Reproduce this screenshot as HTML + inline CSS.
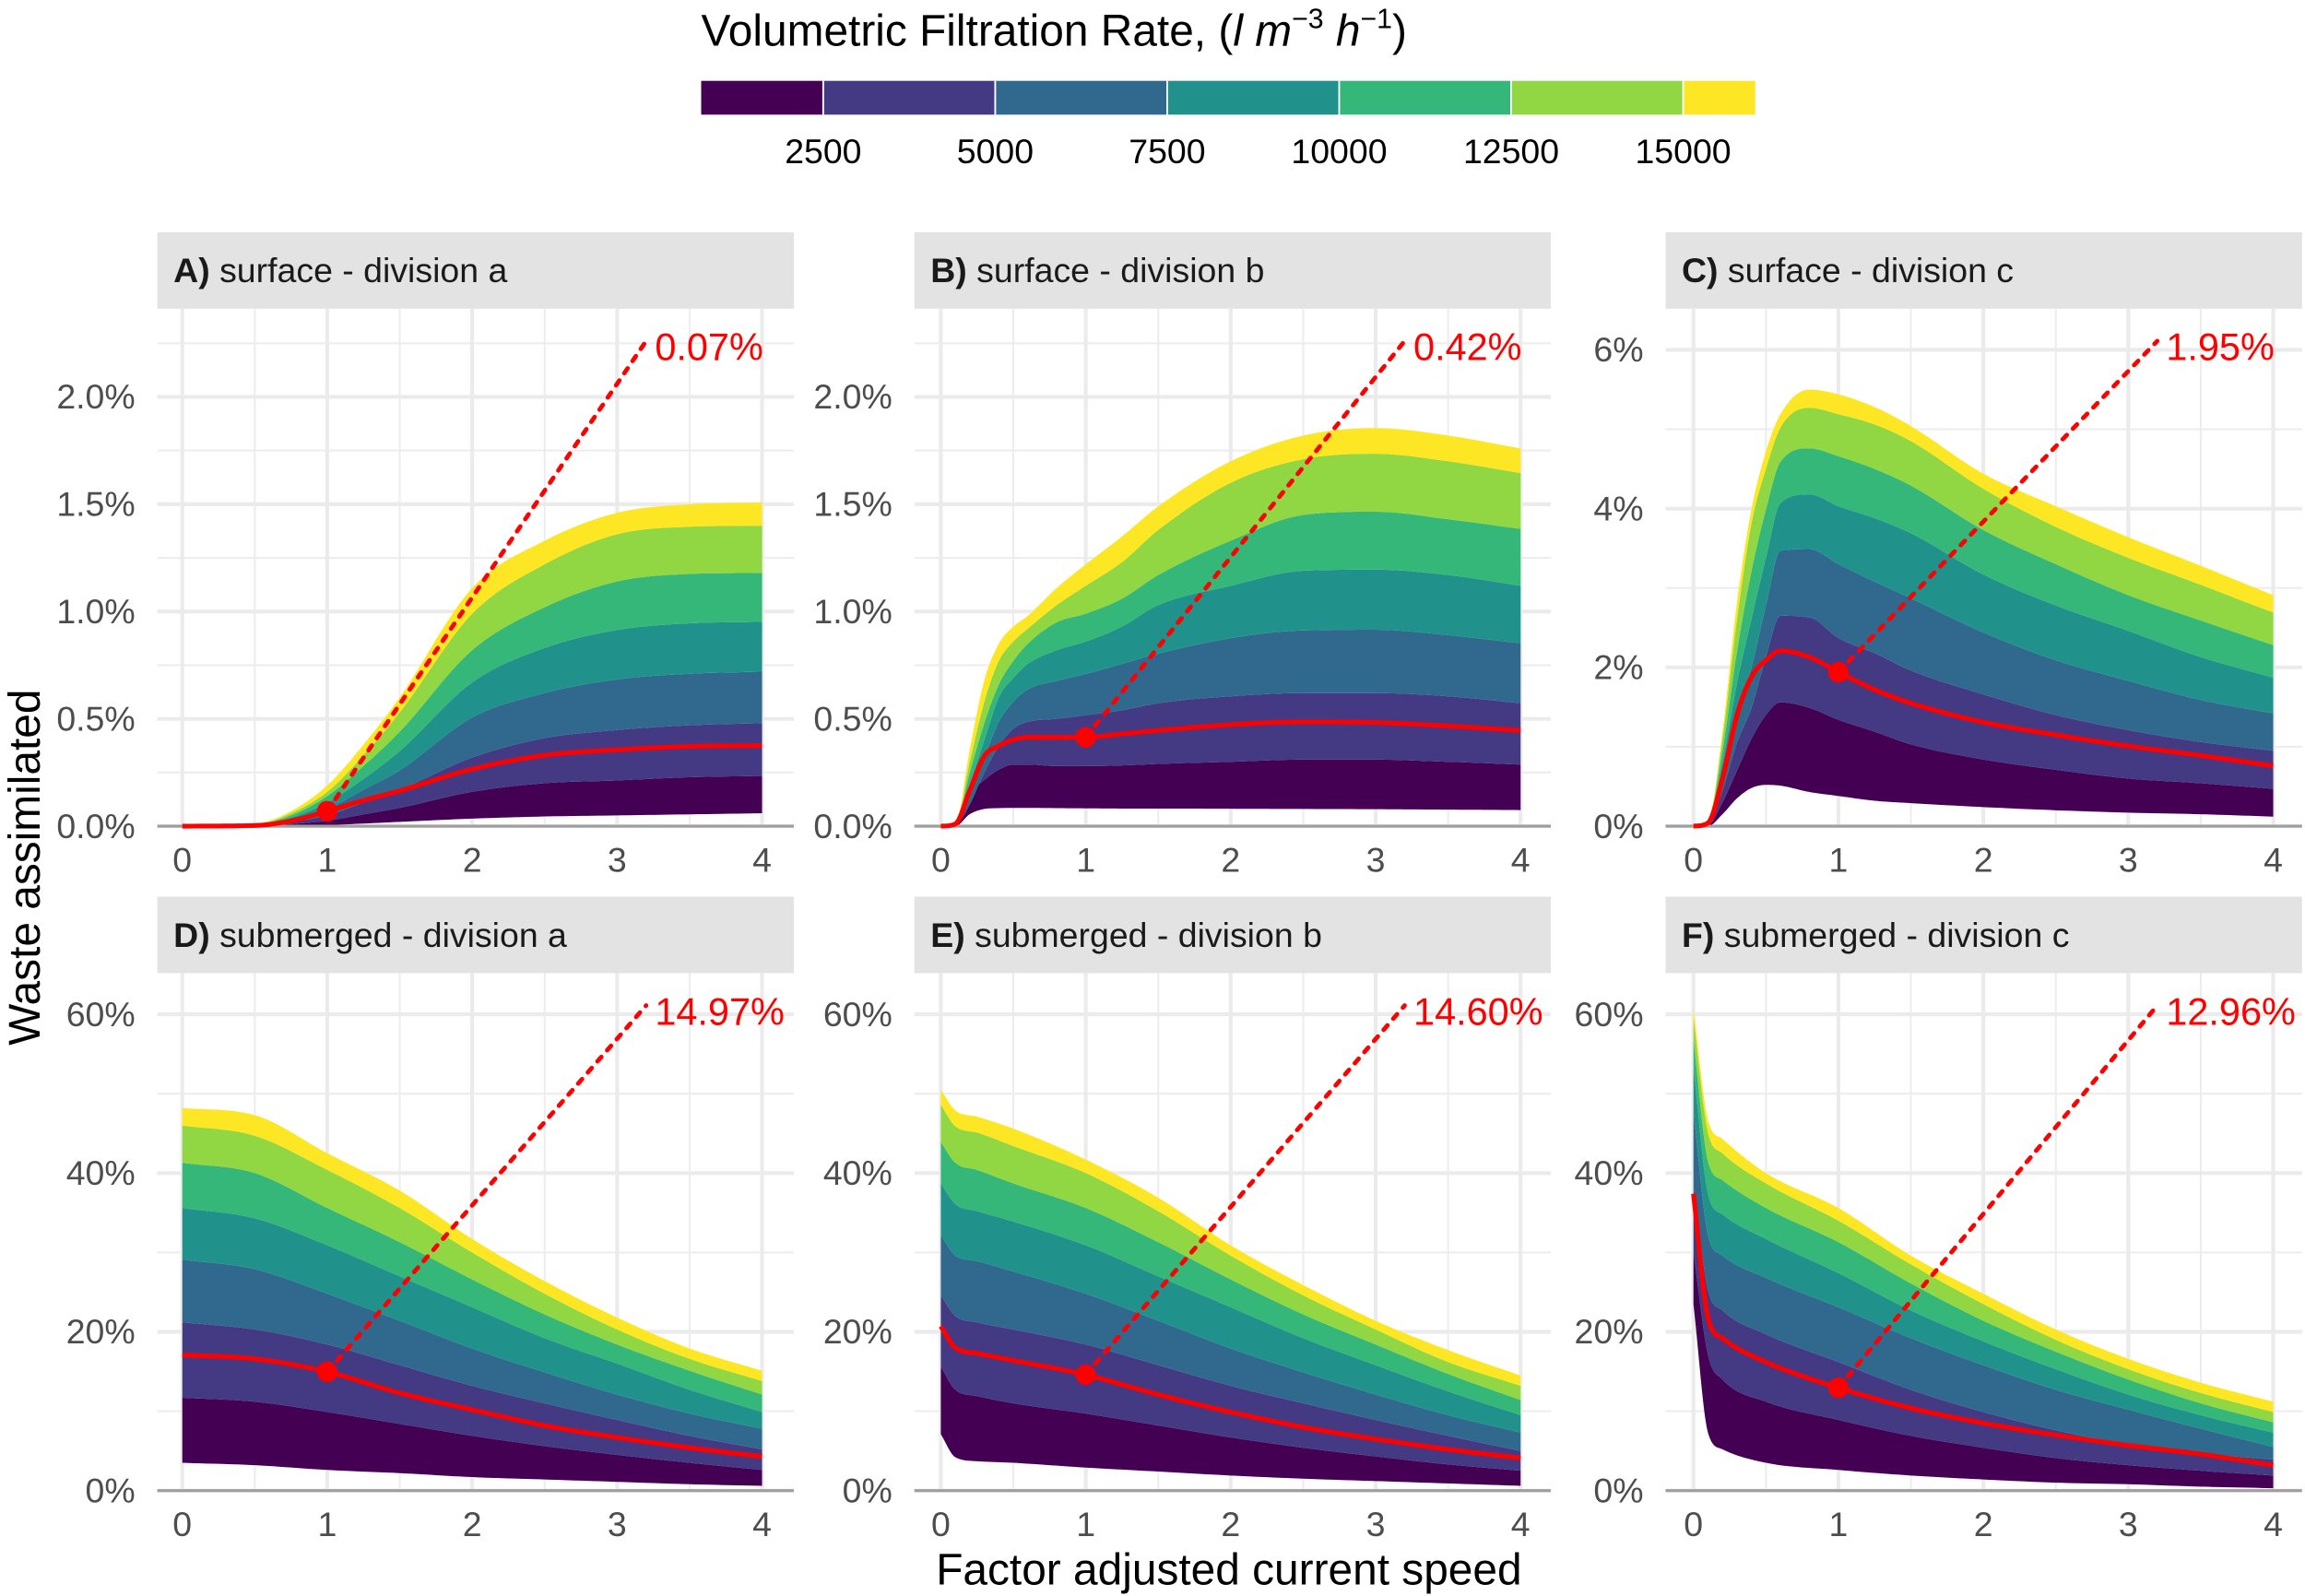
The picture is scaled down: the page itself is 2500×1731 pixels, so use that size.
<!DOCTYPE html>
<html><head><meta charset="utf-8">
<style>
html,body{margin:0;padding:0;background:#fff;}
svg{display:block;font-family:"Liberation Sans",Arial,sans-serif;}
</style></head>
<body>
<svg id="chart" width="2500" height="1731" viewBox="0 0 1568 1085.7" xmlns="http://www.w3.org/2000/svg"></svg>
<script>
// ---------- Data ----------
const bandColors = ["#440154","#443983","#31688e","#21918c","#35b779","#90d743","#fde725"];
const legendBreaks = [726,2500,5000,7500,10000,12500,15000,16047];
const legendTicks = [2500,5000,7500,10000,12500,15000];

const A_x = [0,0.5,0.75,1,1.25,1.5,2,2.5,3,3.5,4];
const A_lo = [0,0,0,0.005,0.012,0.02,0.035,0.045,0.05,0.055,0.06];
const A_b1 = [0,0.001,0.01,0.025,0.055,0.085,0.16,0.2,0.213,0.228,0.234];
const A_b2 = [0,0.002,0.02,0.05,0.11,0.17,0.32,0.41,0.448,0.47,0.48];
const A_b3 = [0,0.004,0.03,0.08,0.17,0.26,0.506,0.62,0.684,0.71,0.72];
const A_b4 = [0,0.005,0.04,0.11,0.22,0.35,0.67,0.83,0.914,0.945,0.952];
const A_b5 = [0,0.007,0.05,0.14,0.28,0.44,0.82,1.02,1.14,1.175,1.18];
const A_b6 = [0,0.008,0.06,0.16,0.33,0.53,0.99,1.22,1.36,1.395,1.40];
const A_b7 = [0,0.01,0.07,0.19,0.38,0.6,1.11,1.33,1.46,1.5,1.508];
const A_red = [0,0.003,0.025,0.07,0.12,0.165,0.266,0.33,0.356,0.372,0.376];

const B_x = [0,0.1,0.2,0.3,0.4,0.5,0.6,0.8,1,1.25,1.5,2,2.5,3,3.5,4];
const B_lo = [0,0,0.056,0.08,0.084,0.085,0.085,0.084,0.083,0.082,0.082,0.081,0.08,0.079,0.077,0.075];
const B_b1 = [0,0,0.15,0.215,0.263,0.287,0.287,0.28,0.28,0.283,0.29,0.3,0.31,0.31,0.3,0.287];
const B_b2 = [0,0.005,0.1,0.25,0.374,0.454,0.486,0.5,0.517,0.54,0.573,0.605,0.62,0.62,0.605,0.573];
const B_b3 = [0,0.006,0.15,0.32,0.486,0.58,0.637,0.677,0.709,0.756,0.804,0.876,0.912,0.915,0.89,0.852];
const B_b4 = [0,0.007,0.2,0.4,0.6,0.69,0.756,0.82,0.86,0.93,1.03,1.12,1.19,1.195,1.17,1.12];
const B_b5 = [0,0.008,0.25,0.48,0.66,0.77,0.85,0.95,0.99,1.06,1.17,1.33,1.45,1.465,1.43,1.385];
const B_b6 = [0,0.009,0.3,0.58,0.77,0.86,0.92,1.03,1.12,1.23,1.38,1.6,1.71,1.735,1.7,1.645];
const B_b7 = [0,0.01,0.36,0.68,0.85,0.93,0.98,1.11,1.22,1.35,1.49,1.7,1.82,1.855,1.82,1.76];
const B_red = [0,0.01,0.167,0.326,0.374,0.403,0.414,0.414,0.414,0.43,0.446,0.473,0.486,0.483,0.467,0.446];

const C_x = [0,0.1,0.2,0.3,0.4,0.5,0.6,0.8,1,1.25,1.5,2,2.5,3,3.5,4];
const C_lo = [0,0,0.15,0.35,0.48,0.52,0.51,0.43,0.38,0.32,0.29,0.24,0.2,0.17,0.15,0.12];
const C_b1 = [0,0.01,0.3,0.7,1.1,1.4,1.56,1.49,1.34,1.19,1.03,0.84,0.71,0.6,0.54,0.47];
const C_b2 = [0,0.02,0.45,1.05,1.49,2.13,2.65,2.63,2.37,2.18,1.96,1.66,1.4,1.21,1.06,0.95];
const C_b3 = [0,0.03,0.6,1.4,2.0,2.78,3.47,3.49,3.3,3.08,2.87,2.44,2.09,1.83,1.59,1.42];
const C_b4 = [0,0.04,0.8,1.8,2.61,3.38,4.07,4.18,4.03,3.88,3.69,3.17,2.78,2.46,2.13,1.87];
const C_b5 = [0,0.05,0.95,2.2,3.21,3.99,4.59,4.76,4.66,4.5,4.29,3.73,3.3,2.91,2.59,2.28];
const C_b6 = [0,0.055,1.1,2.6,3.81,4.5,5.02,5.27,5.19,5.06,4.85,4.25,3.77,3.38,3.04,2.69];
const C_b7 = [0,0.06,1.19,2.82,3.99,4.72,5.19,5.5,5.44,5.28,5.04,4.44,4.03,3.64,3.28,2.91];
const C_red = [0,0.04,0.6,1.4,1.88,2.09,2.21,2.13,1.94,1.72,1.55,1.31,1.15,1.01,0.89,0.76];

const D_x = [0,0.5,1,1.5,2,2.5,3,3.5,4];
const D_lo = [3.5,3.2,2.6,2.2,1.7,1.4,1.1,0.8,0.6];
const D_b1 = [11.7,11.2,9.9,8.4,6.9,5.6,4.5,3.5,2.6];
const D_b2 = [21.2,20.3,18.4,15.8,13.2,11,8.9,6.9,5.2];
const D_b3 = [29.1,27.9,24.8,21.4,17.9,14.9,12.1,9.7,7.8];
const D_b4 = [35.6,34.3,30.9,27,23.1,19.2,16,12.7,9.9];
const D_b5 = [41.3,40,35.6,31.3,26.6,22.2,18.4,15.1,12.1];
const D_b6 = [46,44.7,40.4,35.6,30,24.8,20.3,16.6,13.8];
const D_b7 = [48.2,47.3,42.5,37.8,31.7,26.4,21.8,17.9,15.1];
const D_red = [17.1,16.6,14.97,12.3,10.2,8.2,6.7,5.4,4.3];

const E_x = [0,0.1,0.25,0.5,1,1.5,2,2.5,3,3.5,4];
const E_lo = [7.1,4.2,3.7,3.5,2.9,2.4,1.9,1.5,1.2,0.9,0.6];
const E_b1 = [15.6,12.7,11.9,11,9.7,8.2,6.7,5.4,4.3,3.3,2.5];
const E_b2 = [24.6,22,21.2,20.3,18.4,15.8,13.2,11,8.9,6.9,5];
const E_b3 = [32.2,29.6,28.9,27.6,24.8,21.4,17.9,14.9,12.1,9.5,7.3];
const E_b4 = [38.7,36.1,35.2,33.9,30.9,27,23.1,19.2,15.8,12.5,9.5];
const E_b5 = [43.9,41.3,40.4,38.7,35.6,31.3,26.6,22.2,18.4,14.7,11.4];
const E_b6 = [48.6,45.9,45.1,43.4,40,35.2,29.6,24.6,20.3,16.2,13.2];
const E_b7 = [50.5,47.9,47.1,45.6,41.7,36.9,30.9,25.9,21.4,17.7,14.5];
const E_red = [20.7,18,17.3,16.4,14.6,12.1,9.9,8,6.5,5.2,4.1];

const F_x = [0,0.1,0.2,0.5,1,1.5,2,2.5,3,3.5,4];
const F_lo = [23.5,7.3,5.2,3.5,2.6,1.9,1.4,1.0,0.8,0.5,0.3];
const F_b1 = [30,17.1,14,11.2,8.9,6.9,5.4,4.1,3.2,2.5,1.9];
const F_b2 = [38.2,25.3,22.7,19.7,16.2,12.7,9.9,7.6,5.8,4.7,3.9];
const F_b3 = [47.7,32.2,29.6,26.8,23.1,19.2,15.8,12.7,10.2,7.8,5.5];
const F_b4 = [53.3,37.4,34.8,31.7,27.4,22.7,18.8,15.3,12.1,9.5,7.3];
const F_b5 = [56.8,41.5,39.1,35.6,31.3,26.1,21.4,17.5,14,11,8.6];
const F_b6 = [59.4,45.1,42.5,38.7,34,28.5,23.5,19,15.3,12.3,9.9];
const F_b7 = [60.9,46.7,44.3,40,35.6,29.6,24.8,20.3,16.6,13.6,11.2];
const F_red = [37.4,21.8,19.2,16.2,12.96,10.4,8.5,7,5.7,4.6,3.2];

const panelLetters = ["A","B","C","D","E","F"];
const panelTitles = ["surface - division a","surface - division b","surface - division c","submerged - division a","submerged - division b","submerged - division c"];
const panelLabels = ["0.07%","0.42%","1.95%","14.97%","14.60%","12.96%"];
const yTicksSmall = [0,0.5,1,1.5,2];
const yTicksC = [0,2,4,6];
const yTicksSub = [0,20,40,60];
const xTicks = [0,1,2,3,4];

// ---------- Layout ----------
const NS = "http://www.w3.org/2000/svg";
const svg = document.getElementById("chart");
function mk(tag, attrs, parent){
  const e = document.createElementNS(NS, tag);
  for (const k in attrs) e.setAttribute(k, attrs[k]);
  (parent||svg).appendChild(e);
  return e;
}
const cols = [{sx:107,ex:540,x0:124},{sx:622,ex:1055,x0:640},{sx:1133,ex:1566,x0:1152}];
const rows = [{st:158,top:210,base:562},{st:610,top:662,base:1014}];
const unitX = 98.6;

const panels = [
  {x:A_x,b:[A_lo,A_b1,A_b2,A_b3,A_b4,A_b5,A_b6,A_b7],red:A_red,ppu:146,ticks:yTicksSmall,fmt:v=>v.toFixed(1)+"%",minor:0.25},
  {x:B_x,b:[B_lo,B_b1,B_b2,B_b3,B_b4,B_b5,B_b6,B_b7],red:B_red,ppu:146,ticks:yTicksSmall,fmt:v=>v.toFixed(1)+"%",minor:0.25},
  {x:C_x,b:[C_lo,C_b1,C_b2,C_b3,C_b4,C_b5,C_b6,C_b7],red:C_red,ppu:54,ticks:yTicksC,fmt:v=>v+"%",minor:1},
  {x:D_x,b:[D_lo,D_b1,D_b2,D_b3,D_b4,D_b5,D_b6,D_b7],red:D_red,ppu:5.4,ticks:yTicksSub,fmt:v=>v+"%",minor:10},
  {x:E_x,b:[E_lo,E_b1,E_b2,E_b3,E_b4,E_b5,E_b6,E_b7],red:E_red,ppu:5.4,ticks:yTicksSub,fmt:v=>v+"%",minor:10},
  {x:F_x,b:[F_lo,F_b1,F_b2,F_b3,F_b4,F_b5,F_b6,F_b7],red:F_red,ppu:5.4,ticks:yTicksSub,fmt:v=>v+"%",minor:10}
];

function monotone(xs, ys, n){
  const m = xs.length, d = [], t = new Array(m);
  for (let i=0;i<m-1;i++) d.push((ys[i+1]-ys[i])/(xs[i+1]-xs[i]));
  t[0]=d[0]; t[m-1]=d[m-2];
  for (let i=1;i<m-1;i++){ t[i] = (d[i-1]*d[i]<=0)?0:(d[i-1]+d[i])/2; }
  for (let i=0;i<m-1;i++){
    if (d[i]===0){t[i]=0;t[i+1]=0;continue;}
    const a=t[i]/d[i], b=t[i+1]/d[i], s=a*a+b*b;
    if (s>9){const k=3/Math.sqrt(s); t[i]=k*a*d[i]; t[i+1]=k*b*d[i];}
  }
  const out=[];
  for (let i=0;i<m-1;i++){
    const h=xs[i+1]-xs[i];
    for (let j=0;j<n;j++){
      const u=j/n, u2=u*u, u3=u2*u;
      const y=(2*u3-3*u2+1)*ys[i]+(u3-2*u2+u)*h*t[i]+(-2*u3+3*u2)*ys[i+1]+(u3-u2)*h*t[i+1];
      out.push([xs[i]+u*h, y]);
    }
  }
  out.push([xs[m-1], ys[m-1]]);
  return out;
}
function interp(xs, ys, x){
  for (let i=0;i<xs.length-1;i++) if (x>=xs[i]&&x<=xs[i+1]) return ys[i]+(ys[i+1]-ys[i])*(x-xs[i])/(xs[i+1]-xs[i]);
  return ys[ys.length-1];
}

panels.forEach((p, idx) => {
  const c = cols[idx%3], r = rows[Math.floor(idx/3)];
  const sx = v => c.x0 + v*unitX;
  const sy = v => r.base - v*p.ppu;
  const g = mk("g", {});
  
  

  const strip = mk("rect", {x:c.sx, y:r.st, width:c.ex-c.sx, height:r.top-r.st, fill:"#e3e3e3"}, g);
  
  
  const st = mk("text", {x:c.sx+11, y:r.st+34, "font-size":23.5, fill:"#1a1a1a"}, g);
  
  
  const sb = mk("tspan", {"font-weight":"bold"}, st); sb.textContent = panelLetters[idx] + ")";
  const sn = mk("tspan", {}, st); sn.textContent = " " + panelTitles[idx];

  const gg = mk("g", {}, g);
  
  
  const ymax = (r.base - r.top)/p.ppu;
  for (let v=p.minor; v<ymax; v+=p.minor*2) mk("line",{x1:c.sx,x2:c.ex,y1:sy(v),y2:sy(v),stroke:"#ededed","stroke-width":1.3},gg);
  for (let v=0.5; v<4.2; v+=1) mk("line",{x1:sx(v),x2:sx(v),y1:r.top,y2:r.base,stroke:"#ededed","stroke-width":1.3},gg);
  p.ticks.forEach(v => mk("line",{x1:c.sx,x2:c.ex,y1:sy(v),y2:sy(v),stroke:"#ebebeb","stroke-width":2.6},gg));
  xTicks.forEach(v => mk("line",{x1:sx(v),x2:sx(v),y1:r.top,y2:r.base,stroke:"#ebebeb","stroke-width":2.6},gg));

  const curves = p.b.map(arr => monotone(p.x, arr, 12));
  for (let k=0;k<7;k++){
    const upper = curves[k+1], lower = curves[k];
    let d = "M" + upper.map(q=>sx(q[0]).toFixed(2)+","+sy(q[1]).toFixed(2)).join("L");
    d += "L" + lower.slice().reverse().map(q=>sx(q[0]).toFixed(2)+","+sy(q[1]).toFixed(2)).join("L") + "Z";
    const band = mk("path", {d:d, fill:bandColors[k]}, g);
    
    
  }
  const ax = mk("line",{x1:c.sx,x2:c.ex,y1:r.base,y2:r.base,stroke:"#9e9e9e","stroke-width":2},g);
  
  

  const rc = monotone(p.x, p.red, 12);
  const rl = mk("path",{d:"M"+rc.map(q=>sx(q[0]).toFixed(2)+","+sy(q[1]).toFixed(2)).join("L"),fill:"none",stroke:"#ff0000","stroke-width":3.2,"stroke-linejoin":"round"},g);
  
  
  const ry = interp(p.x, p.red, 1);
  const lx = c.x0 + 3.2*unitX, ly = r.top + 22;
  const dl = mk("line",{x1:sx(1),y1:sy(ry),x2:lx,y2:ly,stroke:"#ff0000","stroke-width":3,"stroke-dasharray":"4 6","stroke-linecap":"round"},g);
  
  
  const dot = mk("circle",{cx:sx(1),cy:sy(ry),r:7,fill:"#ff0000"},g);
  
  
  const lt = mk("text",{x:lx+6,y:ly+13,"font-size":26,fill:"#ff0000"},g);
  
  
  lt.textContent = panelLabels[idx];

  p.ticks.forEach(v => {
    const t = mk("text",{x:c.sx-15,y:sy(v)+8,"font-size":23.5,fill:"#4d4d4d","text-anchor":"end"},g);
    
    
    t.textContent = p.fmt(v);
  });
  xTicks.forEach(v => {
    const t = mk("text",{x:sx(v),y:r.base+31,"font-size":23.5,fill:"#4d4d4d","text-anchor":"middle"},g);
    
    
    t.textContent = v;
  });
});

const yt = mk("text",{x:0,y:0,"font-size":30,fill:"#000","text-anchor":"middle",transform:"translate(27,590) rotate(-90)"});


yt.textContent = "Waste assimilated";
const xt = mk("text",{x:836,y:1078,"font-size":30,fill:"#000","text-anchor":"middle"});


xt.textContent = "Factor adjusted current speed";

const lg = mk("g",{});


const ltitle = mk("text",{x:477,y:31,"font-size":30,fill:"#000"},lg);


ltitle.innerHTML = 'Volumetric Filtration Rate, (<tspan font-style="italic">l m</tspan><tspan font-size="19" dy="-12">−3</tspan><tspan dy="12" font-style="italic"> h</tspan><tspan font-size="19" dy="-12">−1</tspan><tspan dy="12">)</tspan>';
const lsx = v => 560 + (v-2500)*117/2500;
for (let i=0;i<legendBreaks.length-1;i++){
  const seg = mk("rect",{x:lsx(legendBreaks[i]),y:55,width:lsx(legendBreaks[i+1])-lsx(legendBreaks[i]),height:23,fill:bandColors[i]},lg);
  
  
}
legendTicks.forEach(v => {
  mk("line",{x1:lsx(v),x2:lsx(v),y1:55,y2:78,stroke:"#fff","stroke-width":1.2},lg);
  const t = mk("text",{x:lsx(v),y:111,"font-size":23.5,fill:"#000","text-anchor":"middle"},lg);
  
  
  t.textContent = v;
});
</script>
</body></html>
